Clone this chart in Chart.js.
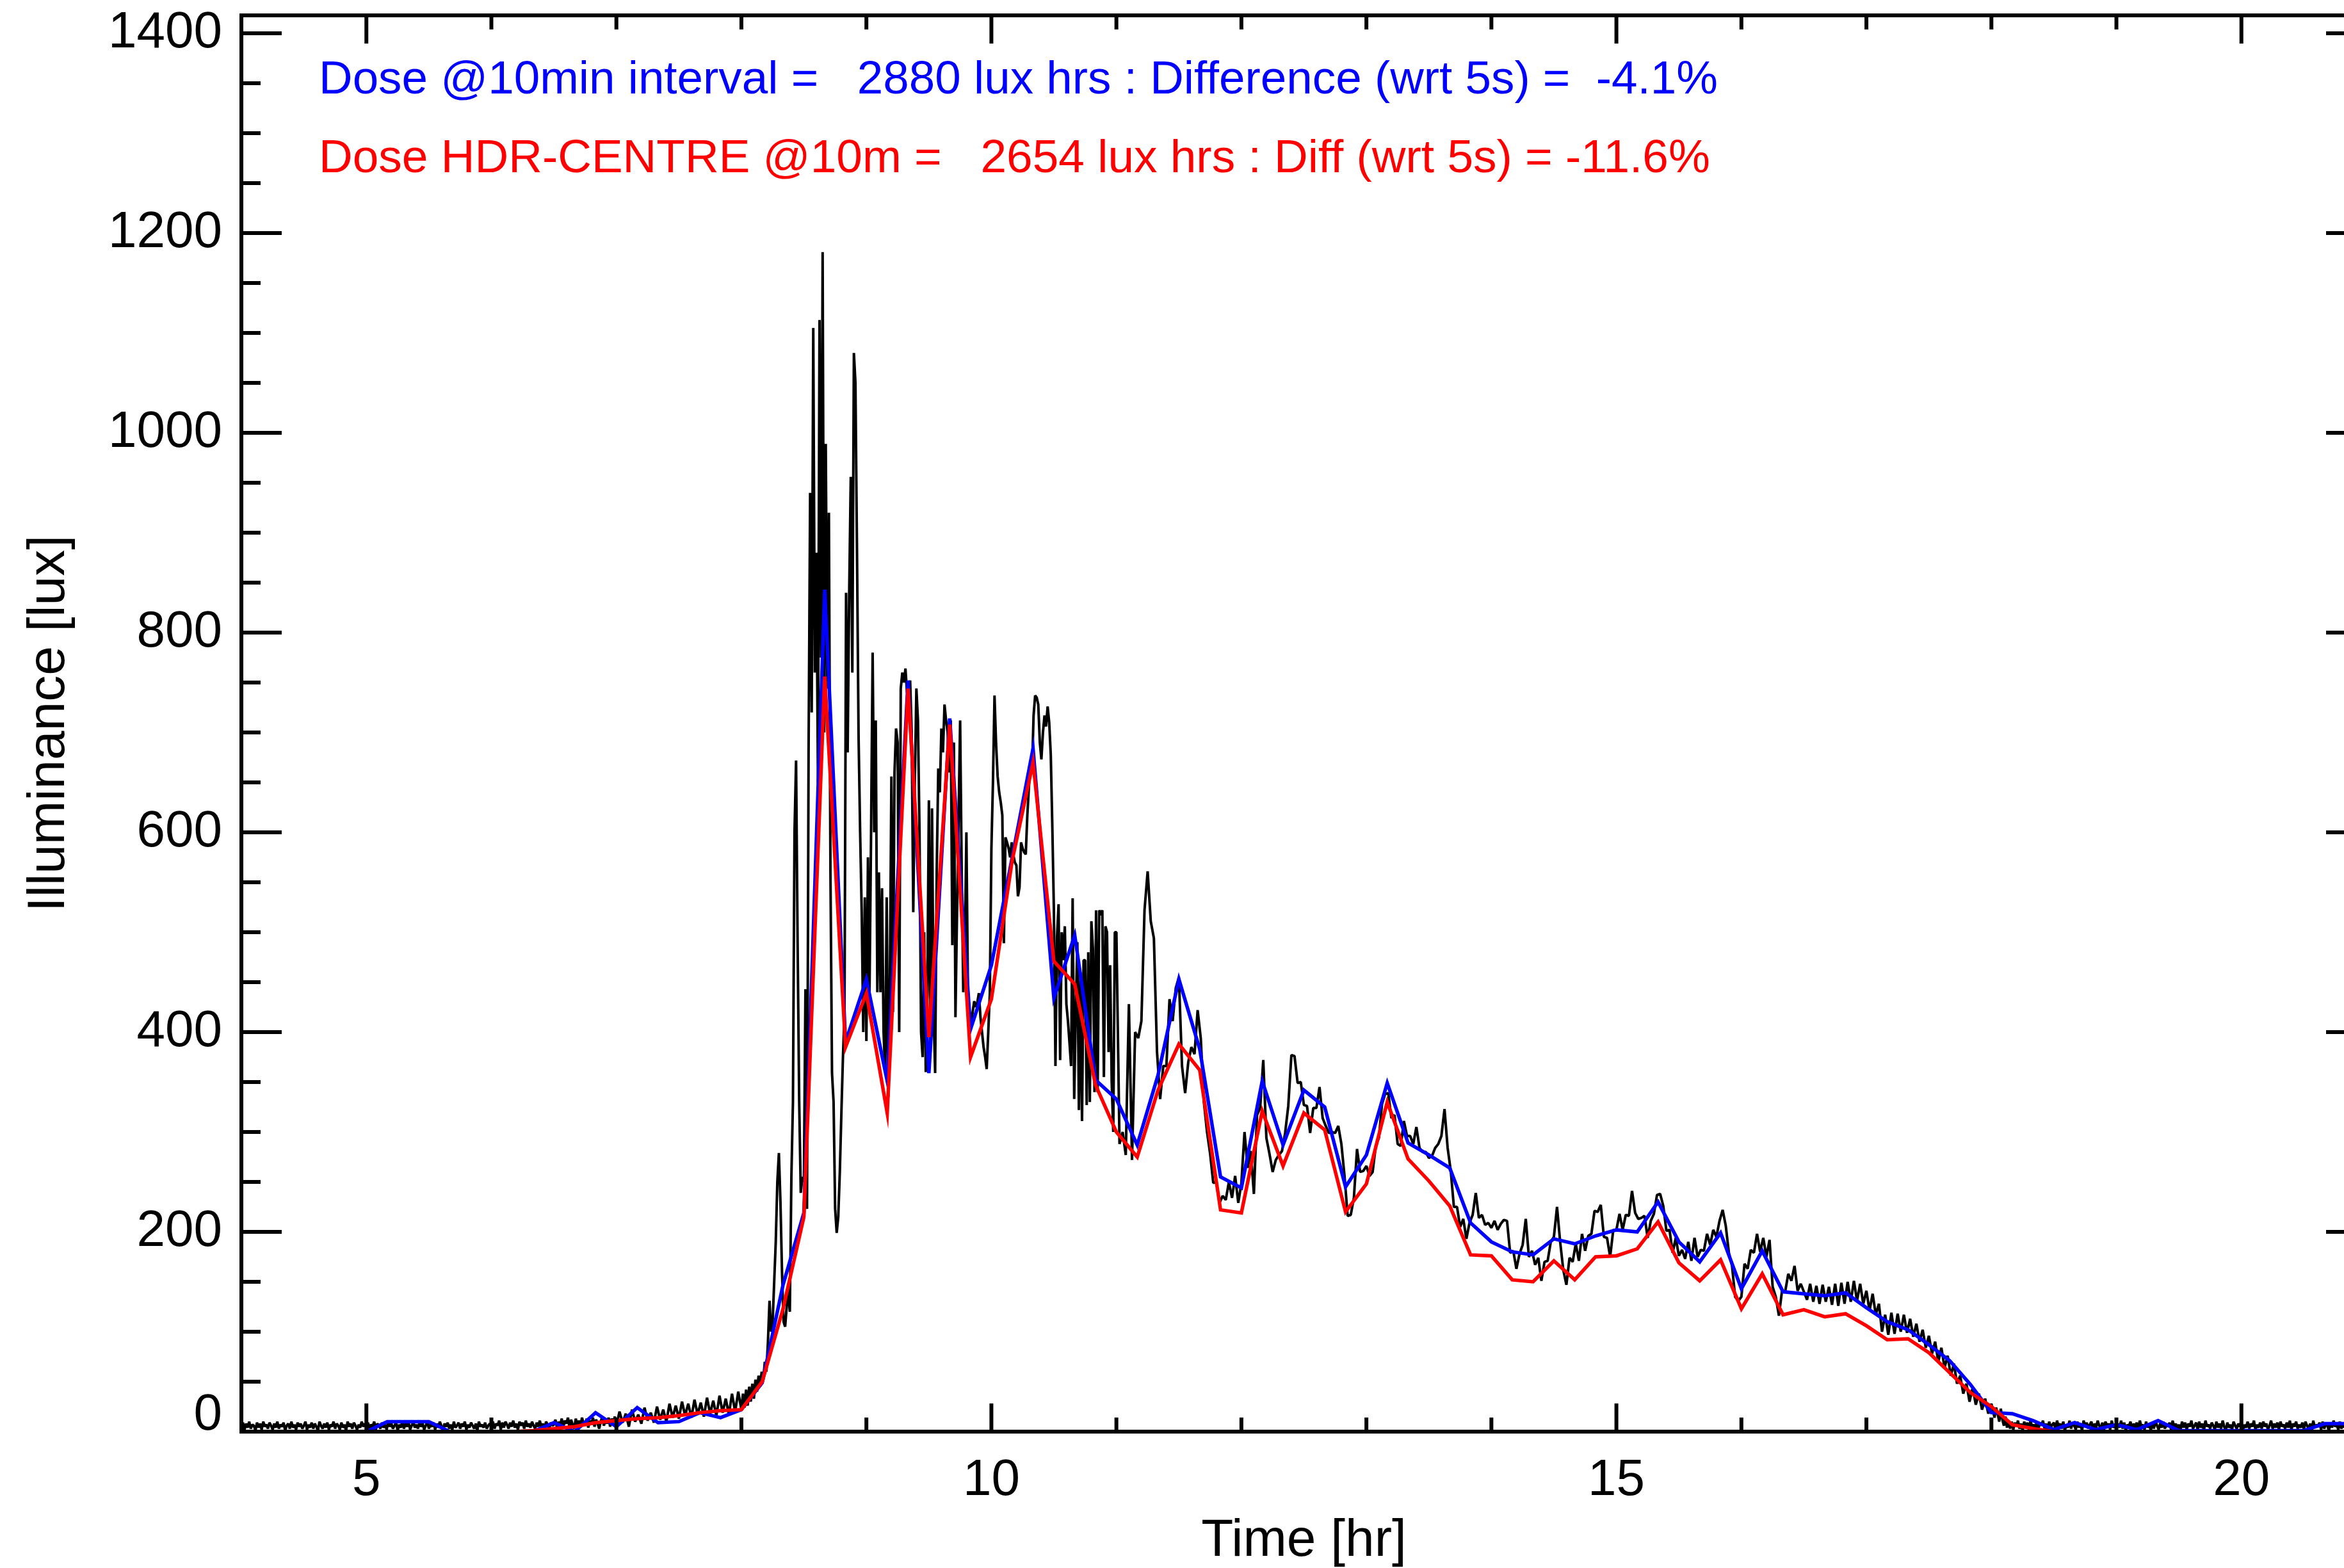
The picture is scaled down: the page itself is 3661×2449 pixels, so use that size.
<!DOCTYPE html>
<html>
<head>
<meta charset="utf-8">
<title>Illuminance</title>
<script src="https://cdn.jsdelivr.net/npm/chart.js@4.4.1/dist/chart.umd.min.js"></script>
<style>
  html, body { margin: 0; padding: 0; background: #fff; overflow: hidden; }
  canvas { display: block; }
</style>
</head>
<body>
<canvas id="plot" width="3700" height="2449"></canvas>
<script>
// logger readings (lux), one array per hour starting at 04:00.
// values are evenly spaced inside each hour (40 or 80 per hour)
const luxH04 = [
  5,9,2,8,4,10,3,7,6,1, 9,4,8,2,10,5,7,3,9,6, 2,8,4,10,3,7,5,9,1,6, 8,3,10,4,7,2,9,5,8,3,
  6,10,2,7,4,9,3,8,5,1, 10,6,3,8,4,9,2,7,5,10, 3,8,6,2,9,4,7,1,10,5, 8,3,9,6,2,7,4,10,5,8
];
const luxH05 = [
  4,9,3,7,5,10,2,8,6,3, 9,4,7,2,10,5,8,3,6,9, 1,7,4,10,3,8,5,9,2,6, 10,4,7,3,9,5,8,2,6,10,
  3,7,5,9,2,8,4,10,6,1, 8,5,9,3,7,2,10,4,6,9, 3,8,5,10,2,7,4,9,6,3, 8,1,10,5,7,4,9,3,6,8
];
const luxH06 = [
  5,10,3,8,6,11,2,9,4,10, 7,3,9,5,11,4,8,2,10,6, 9,3,11,5,8,4,10,6,3,9, 5,11,4,8,2,10,7,3,9,6,
  7,12,4,10,6,13,5,11,8,14, 4,12,7,3,13,6,11,5,14,8, 6,13,4,11,7,14,5,12,8,3, 10,15,6,12,8,14,5,13,9,15
];
const luxH07 = [6,20,9,18,5,22,10,17,8,24, 11,19,9,25,12,22,10,28,14,26, 13,30,16,28,14,32,17,29,15,34, 18,31,16,36,19,33,17,38,20,40];
const luxH08 = [
  22,38,24,42,26,45,30,48,33,52, 40,56,45,60,52,70,60,90,131,100,
  110,150,190,250,279,230,160,110,105,125, 140,120,255,330,600,672,487,330,239,255,
  250,443,223,680,940,720,1105,760,880,650, 1113,775,1181,700,989,744,920,560,359,330,
  223,199,215,260,319,375,420,840,680,840, 956,760,1080,1050,880,696,600,520,400,535
];
const luxH09 = [
  391,575,440,600,780,600,712,440,560,440, 544,400,360,535,335,440,656,420,660,704,
  690,400,744,760,750,764,740,744,752,700, 520,650,744,712,600,400,375,500,360,440,
  632,380,624,420,359,560,664,640,704,680, 728,712,700,660,712,487,690,415,519,615,
  712,560,440,480,600,439,420,407,420,431, 425,430,439,415,400,385,375,363,400,439
];
const luxH10 = [
  583,650,737,689,656,640,630,617,489,595, 590,584,575,590,578,570,567,536,545,590,
  584,580,578,617,645,667,660,717,737,735, 728,690,673,700,717,706,726,710,678,606,
  522,366,495,528,372,500,472,506,428,411, 389,366,534,333,420,490,322,460,311,472,
  472,327,480,330,511,483,340,522,340,522, 517,522,355,506,500,380,467,350,300,500
];
const luxH11 = [500,288,300,277,428,272,400,394,411,522, 561,511,494,380,333,366,366,433,411,444, 455,366,339,370,385,378,422,394,330,300, 278,249,250,229,236,232,250,234,256,229];
const luxH12 = [249,300,264,281,238,317,324,372,294,278, 260,272,277,281,299,326,377,376,349,350, 327,326,299,324,324,345,314,306,299,300, 299,306,288,256,216,217,234,283,260,261];
const luxH13 = [266,256,260,286,294,328,338,339,314,317, 288,286,311,296,296,288,305,284,280,280, 274,276,284,288,296,323,284,261,225,225, 205,213,193,209,217,239,214,217,207,209];
const luxH14 = [204,211,202,208,212,211,179,181,163,178, 187,213,175,181,167,174,151,170,171,190, 195,225,190,162,147,174,170,188,171,198, 181,196,198,221,220,227,195,194,175,202];
const luxH15 = [202,218,202,217,216,241,219,213,214,216, 194,211,218,237,238,226,201,202,179,194, 176,182,173,190,171,194,175,182,181,198, 187,202,195,211,222,206,179,166,135,131];
const luxH16 = [135,168,163,182,179,198,180,194,175,192, 145,135,116,141,140,158,151,166,141,148, 140,132,148,130,146,128,147,130,145,127, 148,126,149,128,150,130,151,131,148,128];
const luxH17 = [141,121,138,117,128,100,117,97,119,98, 118,100,117,99,113,95,108,90,102,84, 96,78,90,70,84,64,76,56,68,48, 56,38,48,30,44,27,38,22,33,18];
const luxH18 = [
  28,21,14,24,18,10,23,12,6,15, 4,11,3,10,2,9,5,11,3,8, 1,10,4,9,2,11,5,7,3,10, 2,9,6,11,3,8,1,10,4,7,
  9,2,11,5,8,3,10,1,7,4, 11,3,9,6,2,10,4,8,1,11, 5,9,3,7,10,2,8,4,11,6, 3,9,1,10,5,8,2,11,4,7
];
const luxH19 = [
  2,8,4,11,3,9,1,7,5,10, 2,8,4,9,3,11,5,7,2,10, 4,8,1,9,3,11,6,2,8,4, 10,3,7,5,9,2,11,4,8,3,
  7,1,10,4,9,2,8,5,11,3, 6,9,2,10,4,8,1,11,5,7, 3,9,6,2,10,4,8,3,11,5, 1,9,4,7,2,10,6,3,8,5
];
const luxH20 = [
  9,2,7,4,10,3,8,5,11,2, 7,4,9,3,10,5,8,2,6,11, 3,8,4,9,2,10,5,7,3,9, 4,11,2,8,5,10,3,7,4,9,
  2,10,6,3,8,1,11,4,7,5, 9,2,10,3,8,6,1,9,4,11, 5,7,2,10,3,8,4,9,1,6, 10,3,8,5,2,11,4,7,3,9
];
const luxH21 = [5];
const rawFirstHour = 4;

// 10 minute samples from 04:00 (six per hour)
const tenMinStart = 4.0;
const tenMinStep = 1 / 6;
const luxTenMin = [
  0,0,0,0,0,0,
  0,10,10,10,0,0,
  0,0,0,9,0,19,
  5,24,9,10,19,14,
  22,49,147,219,843,390,
  453,351,752,359,714,403,
  467,575,684,434,497,352,
  333,287,357,453,383,255,
  244,351,287,342,325,245,
  277,349,289,277,264,209,
  190,180,177,193,188,196,
  202,200,230,190,170,199,
  143,181,140,138,136,139,
  124,110,102,87,71,47,
  19,18,11,2,9,2,
  7,2,11,1,1,1,
  1,1,1,1,8,8,
  8
];
const luxHdrCentre = [
  0,0,0,0,0,0,
  0,0,0,0,0,0,
  0,0,1,3,5,9,
  11,13,14,16,19,21,
  22,50,123,215,756,385,
  439,319,744,395,708,375,
  433,572,670,471,448,347,
  300,275,342,388,362,222,
  219,321,266,319,302,220,
  248,330,273,251,226,177,
  176,152,150,171,152,175,
  176,183,210,169,151,172,
  123,158,117,122,115,118,
  106,92,93,79,59,39,
  25,7,3,0,0,0,
  0,0,0,0,0,0,
  0,0,0,0,0,0,
  0
];

const xMajorTicks = [5, 10, 15, 20];
const xMinorStep = 1;
const yMajorTicks = [0, 200, 400, 600, 800, 1000, 1200, 1400];
const yMinorStep = 50;

const doseBlue = 'Dose @10min interval =   2880 lux hrs : Difference (wrt 5s) =  -4.1%';
const doseRed = 'Dose HDR-CENTRE @10m =   2654 lux hrs : Diff (wrt 5s) = -11.6%';

const rawHours = [luxH04, luxH05, luxH06, luxH07, luxH08, luxH09, luxH10, luxH11,
  luxH12, luxH13, luxH14, luxH15, luxH16, luxH17, luxH18, luxH19, luxH20, luxH21];

function toPoints(start, step, values) {
  return values.map((v, i) => ({ x: start + i * step, y: v }));
}

// each hour block is spread evenly over its own hour
const rawPoints = [];
rawHours.forEach((vals, h) => {
  rawPoints.push(...toPoints(rawFirstHour + h, 1 / vals.length, vals));
});

const FONT = '"Liberation Sans", Arial, Helvetica, sans-serif';

// IDL style box: inward major/minor ticks on all four sides, plus the dose text
const idlFrame = {
  id: 'idlFrame',
  afterDatasetsDraw(chart) {
    const { ctx, chartArea: a, scales: { x, y } } = chart;
    ctx.save();
    ctx.strokeStyle = '#000';
    ctx.lineWidth = 6;
    ctx.lineCap = 'butt';
    ctx.beginPath();
    for (let h = x.min; h <= x.max; h += xMinorStep) {
      const len = xMajorTicks.includes(h) ? 44 : 22;
      const px = x.getPixelForValue(h);
      ctx.moveTo(px, a.bottom); ctx.lineTo(px, a.bottom - len);
      ctx.moveTo(px, a.top); ctx.lineTo(px, a.top + len);
    }
    for (let v = 0; v <= y.max; v += yMinorStep) {
      const len = yMajorTicks.includes(v) ? 63 : 30;
      const py = y.getPixelForValue(v);
      ctx.moveTo(a.left, py); ctx.lineTo(a.left + len, py);
      ctx.moveTo(a.right, py); ctx.lineTo(a.right - len, py);
    }
    ctx.stroke();
    ctx.strokeRect(a.left, a.top, a.right - a.left, a.bottom - a.top);

    ctx.font = '73px ' + FONT;
    ctx.textBaseline = 'alphabetic';
    ctx.textAlign = 'left';
    const tx = x.getPixelForValue(4.62);
    ctx.fillStyle = '#0000ff';
    ctx.fillText(doseBlue, tx, y.getPixelForValue(1340), 2185);
    ctx.fillStyle = '#ff0000';
    ctx.fillText(doseRed, tx, y.getPixelForValue(1261), 2175);
    ctx.restore();
  }
};

new Chart(document.getElementById('plot'), {
  type: 'line',
  data: {
    datasets: [
      {
        label: 'HDR-CENTRE 10 min',
        data: toPoints(tenMinStart, tenMinStep, luxHdrCentre),
        borderColor: '#ff0000',
        borderWidth: 5.5,
        order: 0
      },
      {
        label: '10 min',
        data: toPoints(tenMinStart, tenMinStep, luxTenMin),
        borderColor: '#0000ff',
        borderWidth: 5.5,
        order: 1
      },
      {
        label: '5 s',
        data: rawPoints,
        borderColor: '#000000',
        borderWidth: 4,
        borderJoinStyle: 'bevel',
        order: 2
      }
    ]
  },
  options: {
    responsive: false,
    animation: false,
    devicePixelRatio: 1,
    layout: { padding: { left: 0, top: 24, right: 4, bottom: 0 } },
    plugins: { legend: { display: false }, tooltip: { enabled: false } },
    elements: {
      point: { radius: 0 },
      line: { tension: 0, borderCapStyle: 'butt', fill: false }
    },
    scales: {
      x: {
        type: 'linear',
        min: 4,
        max: 21,
        grid: { display: false, drawTicks: false },
        border: { display: false },
        afterBuildTicks: s => { s.ticks = xMajorTicks.map(v => ({ value: v })); },
        afterFit: s => { s.height = 213; s.paddingLeft = 0; s.paddingRight = 0; },
        ticks: {
          color: '#000',
          font: { family: FONT, size: 80 },
          padding: 29,
          maxRotation: 0,
          callback: v => String(v)
        },
        title: {
          display: true,
          text: 'Time [hr]',
          color: '#000',
          font: { family: FONT, size: 82, lineHeight: 1.0 },
          padding: { top: 0, bottom: 1 }
        }
      },
      y: {
        type: 'linear',
        min: 0,
        max: 1418,
        grid: { display: false, drawTicks: false },
        border: { display: false },
        afterBuildTicks: s => { s.ticks = yMajorTicks.map(v => ({ value: v })); },
        afterFit: s => { s.width = 377; s.paddingTop = 0; s.paddingBottom = 0; },
        ticks: {
          color: '#000',
          font: { family: FONT, size: 80, lineHeight: 0.625 },
          padding: 30,
          // the zero label sits a little above the bottom axis line
          callback: v => (v === 0 ? ['0', ''] : String(v))
        },
        title: {
          display: true,
          text: 'Illuminance [lux]',
          color: '#000',
          font: { family: FONT, size: 82 },
          padding: { top: 28, bottom: 0 }
        }
      }
    }
  },
  plugins: [idlFrame]
});
</script>
</body>
</html>
